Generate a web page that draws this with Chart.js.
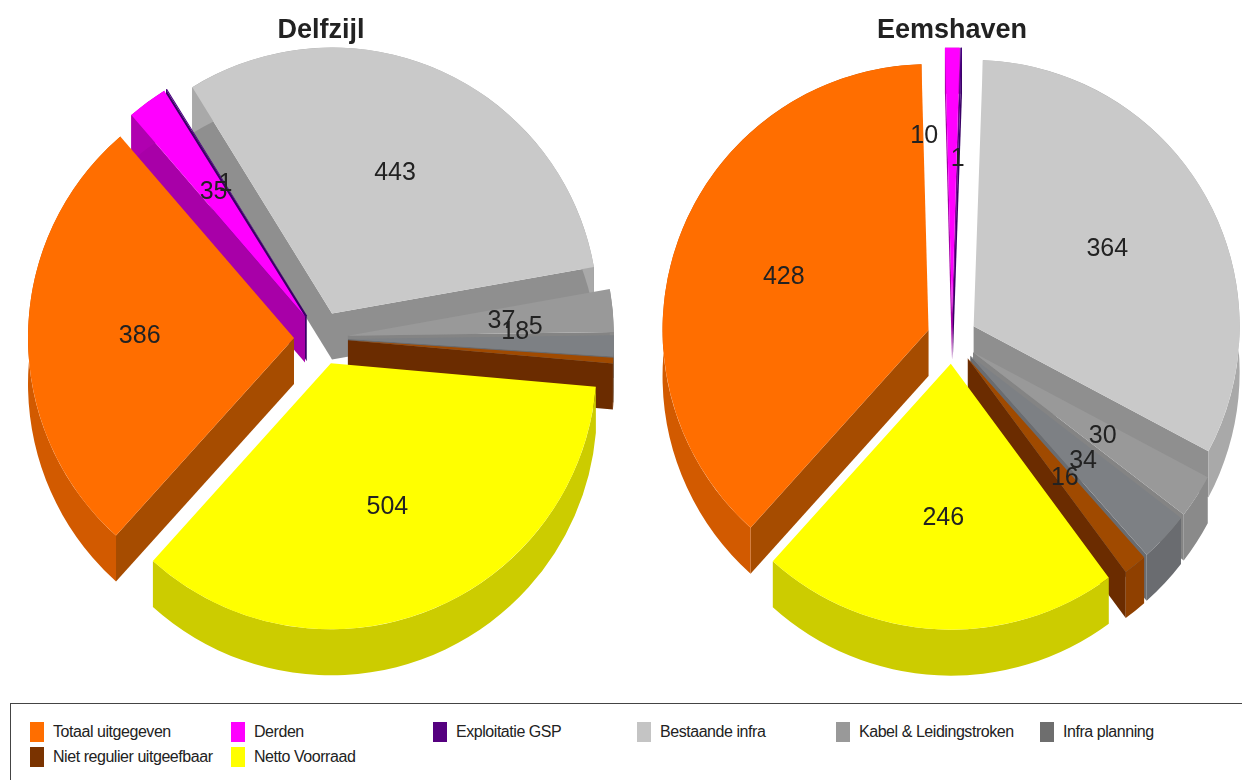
<!DOCTYPE html>
<html>
<head>
<meta charset="utf-8">
<title>Delfzijl / Eemshaven</title>
<script src="https://cdn.jsdelivr.net/npm/chart.js@4"></script>
<style>
  html, body { margin: 0; padding: 0; background: #fff; overflow: hidden; }
  body { position: relative; width: 1242px; height: 780px; }
  canvas { position: absolute; top: 0; }
  #delfzijl { left: 3px; }
  #eemshaven { left: 650px; }
  #legend {
    position: absolute; left: 10px; top: 703px; width: 1300px; height: 100px;
    border: 1.5px solid #444; box-sizing: border-box;
    font: 16px "Liberation Sans", sans-serif; letter-spacing: -0.45px; color: #222;
  }
  .item { position: absolute; height: 20px; line-height: 20px; white-space: nowrap; }
  .item i { position: absolute; left: 0; top: 0; width: 14px; height: 20px; }
  .item span { position: absolute; left: 23px; top: 0; }
</style>
</head>
<body>
<canvas id="delfzijl" width="644" height="700"></canvas>
<canvas id="eemshaven" width="596" height="700"></canvas>
<div id="legend"></div>

<script>
// Data
const categories = [
  "Totaal uitgegeven",
  "Derden",
  "Exploitatie GSP",
  "Bestaande infra",
  "Kabel & Leidingstroken",
  "Infra planning",
  "Niet regulier uitgeefbaar",
  "Netto Voorraad",
];
const delfzijlValues = [386, 35, 1, 443, 37, 18, 5, 504];
const eemshavenValues = [428, 10, 1, 364, 30, 34, 16, 246];

// Colours per category: top face, outer rim, cut side
const topColors = ["#ff6e00", "#ff00ff", "#4b0082", "#c9c9c9", "#999999", "#7d8084", "#a04a00", "#ffff00"];
const rimColors = ["#d25a00", "#b000b0", "#3a0066", "#a9a9a9", "#8a8a8a", "#6a6c70", "#8f4000", "#cccc00"];
const sideColors = ["#a64c00", "#a800a8", "#3a0066", "#8f8f8f", "#848484", "#6a6c70", "#6b2c00", "#b0b000"];
const legendColors = ["#ff6e00", "#ff00ff", "#55007f", "#c4c4c4", "#999999", "#6e6e6e", "#7a3300", "#ffff00"];

// Labels that were moved aside in the original to avoid overlap
const delfzijlNudges = { 5: [13, -11], 6: [34, -25] };
const eemshavenNudges = { 1: [-28, -23] };

const DEPTH = 46;

// Draws the extruded walls, then the library's arcs pulled out of the centre,
// and the value labels on top
const pie3d = {
  id: "pie3d",
  beforeDatasetDraw(chart, args, opts) {
    const ctx = chart.ctx;
    const data = chart.getDatasetMeta(0).data;
    const mid = (a) => (a.startAngle + a.endAngle) / 2;
    const back = data.map((arc, i) => ({ arc, i }));
    back.sort((a, b) => Math.sin(mid(a.arc)) - Math.sin(mid(b.arc)));

    back.forEach(({ arc, i }) => {
      const m = mid(arc);
      const ox = arc.x + Math.cos(m) * opts.explode;
      const oy = arc.y + Math.sin(m) * opts.explode;
      const r = arc.outerRadius;

      // Cut sides, only the ones facing the viewer
      ctx.fillStyle = sideColors[i];
      [[arc.startAngle, Math.cos(arc.startAngle) < 0], [arc.endAngle, Math.cos(arc.endAngle) > 0]].forEach(([a, front]) => {
        if (!front) return;
        const ex = ox + Math.cos(a) * r;
        const ey = oy + Math.sin(a) * r;
        ctx.beginPath();
        ctx.moveTo(ox, oy);
        ctx.lineTo(ex, ey);
        ctx.lineTo(ex, ey + DEPTH);
        ctx.lineTo(ox, oy + DEPTH);
        ctx.closePath();
        ctx.fill();
      });

      // Outer rim
      ctx.fillStyle = rimColors[i];
      ctx.beginPath();
      ctx.arc(ox, oy, r, arc.startAngle, arc.endAngle);
      ctx.arc(ox, oy + DEPTH, r, arc.endAngle, arc.startAngle, true);
      ctx.closePath();
      ctx.fill();
    });

    // Top faces, in data order
    data.forEach((arc) => {
      const m = mid(arc);
      ctx.save();
      ctx.translate(Math.cos(m) * opts.explode, Math.sin(m) * opts.explode);
      arc.draw(ctx);
      ctx.restore();
    });
    return false;
  },
  afterDatasetsDraw(chart, args, opts) {
    const ctx = chart.ctx;
    const values = chart.data.datasets[0].data;
    ctx.save();
    ctx.font = '25px "Liberation Sans", sans-serif';
    ctx.fillStyle = "#222";
    ctx.textAlign = "center";
    ctx.textBaseline = "middle";
    chart.getDatasetMeta(0).data.forEach((arc, i) => {
      const m = (arc.startAngle + arc.endAngle) / 2;
      const dist = opts.explode + arc.outerRadius * 0.58;
      const nudge = opts.nudges[i] || [0, 0];
      ctx.fillText(values[i], arc.x + Math.cos(m) * dist + nudge[0], arc.y + Math.sin(m) * dist + nudge[1]);
    });
    ctx.restore();
  },
};

function makePie(id, title, values, radius, explode, padding, nudges) {
  return new Chart(document.getElementById(id), {
    type: "pie",
    plugins: [pie3d],
    data: {
      labels: categories,
      datasets: [
        {
          data: values,
          backgroundColor: topColors,
          borderWidth: 0,
        },
      ],
    },
    options: {
      responsive: false,
      animation: false,
      rotation: 222,
      radius: radius,
      layout: { padding: padding },
      plugins: {
        legend: { display: false },
        tooltip: { enabled: false },
        title: {
          display: true,
          text: title,
          color: "#222",
          font: { family: "'Liberation Sans', sans-serif", size: 27, weight: "bold" },
          padding: { top: 14, bottom: 0 },
        },
        pie3d: { explode: explode, nudges: nudges },
      },
    },
  });
}

makePie("delfzijl", "Delfzijl", delfzijlValues, 266, 27, { bottom: 70, right: 8 }, delfzijlNudges);
makePie("eemshaven", "Eemshaven", eemshavenValues, 266, 25, { bottom: 69, left: 8 }, eemshavenNudges);

// Legend box, two rows
const legendX = [19, 220, 422, 626, 825, 1029];
const legendRows = [[0, 0], [1, 0], [2, 0], [3, 0], [4, 0], [5, 0], [0, 1], [1, 1]];
const legendBox = document.getElementById("legend");
categories.forEach((name, i) => {
  const pos = legendRows[i];
  const item = document.createElement("div");
  item.className = "item";
  item.style.left = legendX[pos[0]] + "px";
  item.style.top = 18 + pos[1] * 25 + "px";
  item.innerHTML = '<i style="background:' + legendColors[i] + '"></i><span></span>';
  item.querySelector("span").textContent = name;
  legendBox.appendChild(item);
});
</script>
</body>
</html>
